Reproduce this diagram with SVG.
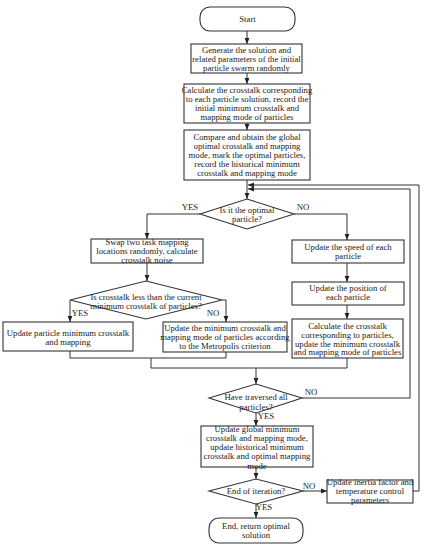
<svg xmlns="http://www.w3.org/2000/svg" width="425" height="550" viewBox="0 0 425 550">
<style>
.b{fill:#fff;stroke:#333;stroke-width:1.1}
.c{fill:none;stroke:#333;stroke-width:1}
text{font-family:"Liberation Serif","Times New Roman",serif;font-size:8.7px;fill:#222;text-anchor:middle}
</style>
<defs>
<marker id="a" viewBox="0 0 10 10" refX="10" refY="5" markerWidth="6" markerHeight="6" orient="auto" markerUnits="userSpaceOnUse"><path d="M0,1 L10,5 L0,9 z" fill="#222"/></marker>
</defs>
<rect width="425" height="550" fill="#fff"/>
<g id="connectors">
<path class="c" d="M247,31 V44" marker-end="url(#a)"/>
<path class="c" d="M247,73 V84" marker-end="url(#a)"/>
<path class="c" d="M247,123 V130" marker-end="url(#a)"/>
<path class="c" d="M247,180 V199" marker-end="url(#a)"/>
<path class="c" d="M413,491 H419 V185 H248" marker-end="url(#a)"/>
<path class="c" d="M302,398 H410 V189 H248" marker-end="url(#a)"/>
<path class="c" d="M200,214 H147 V239" marker-end="url(#a)"/>
<path class="c" d="M294,214 H347 V240" marker-end="url(#a)"/>
<path class="c" d="M147,263 V281" marker-end="url(#a)"/>
<path class="c" d="M347,263 V282" marker-end="url(#a)"/>
<path class="c" d="M347,305 V319" marker-end="url(#a)"/>
<path class="c" d="M70,300 V322" marker-end="url(#a)"/>
<path class="c" d="M222,300 H226 V322" marker-end="url(#a)"/>
<path class="c" d="M70,351 V358 H226 V352"/>
<path class="c" d="M151,358 V368 H347 V358"/>
<path class="c" d="M256,368 V384" marker-end="url(#a)"/>
<path class="c" d="M256,413 V426" marker-end="url(#a)"/>
<path class="c" d="M256,467 V479" marker-end="url(#a)"/>
<path class="c" d="M303,491 H327" marker-end="url(#a)"/>
<path class="c" d="M256,504 V518" marker-end="url(#a)"/>
<text x="190" y="210">YES</text>
<text x="303" y="210">NO</text>
<text x="80" y="316">YES</text>
<text x="213" y="316">NO</text>
<text x="311" y="395">NO</text>
<text x="266" y="419">YES</text>
<text x="309" y="489">NO</text>
<text x="264" y="510">YES</text>
</g>
<g id="start"><rect class="b" x="200" y="7" width="95" height="24" rx="10"/><text x="247.5" y="22">Start</text></g>
<g id="init"><rect class="b" x="191" y="44" width="111" height="29"/><text x="246.5" y="53">Generate the solution and</text><text x="246.5" y="62">related parameters of the initial</text><text x="246.5" y="70.5">particle swarm randomly</text></g>
<g id="calc1"><rect class="b" x="184" y="84" width="126" height="39"/><text x="247" y="93">Calculate the crosstalk corresponding</text><text x="247" y="102">to each particle solution, record the</text><text x="247" y="111">initial minimum crosstalk and</text><text x="247" y="120">mapping mode of particles</text></g>
<g id="compare"><rect class="b" x="184" y="130" width="126" height="50"/><text x="247" y="140">Compare and obtain the global</text><text x="247" y="149">optimal crosstalk and mapping</text><text x="247" y="158">mode, mark the optimal particles,</text><text x="247" y="167">record the historical minimum</text><text x="247" y="176">crosstalk and mapping mode</text></g>
<g id="d1"><polygon class="b" points="200,214 247,199 294,214 247,229"/><text x="247" y="213">Is it the optimal</text><text x="247" y="222">particle?</text></g>
<g id="swap"><rect class="b" x="91" y="239" width="112" height="24"/><text x="147" y="244.5">Swap two task mapping</text><text x="147" y="253.5">locations randomly, calculate</text><text x="147" y="262.5">crosstalk noise</text></g>
<g id="speed"><rect class="b" x="292" y="240" width="112" height="23"/><text x="348" y="250">Update the speed of each</text><text x="348" y="259">particle</text></g>
<g id="position"><rect class="b" x="292" y="282" width="112" height="23"/><text x="348" y="291">Update the position of</text><text x="348" y="300">each particle</text></g>
<g id="d2"><polygon class="b" points="70,300 146,281 222,300 146,319"/><text x="146" y="299.5">Is crosstalk less than the current</text><text x="146" y="308.5">minimum crosstalk of particles?</text></g>
<g id="updmin"><rect class="b" x="3" y="322" width="130" height="29"/><text x="68" y="336">Update particle minimum crosstalk</text><text x="68" y="345">and mapping</text></g>
<g id="metro"><rect class="b" x="163" y="322" width="124" height="30"/><text x="225" y="331">Update the minimum crosstalk and</text><text x="225" y="340">mapping mode of particles according</text><text x="225" y="349">to the Metropolis criterion</text></g>
<g id="calc2"><rect class="b" x="292" y="319" width="111" height="39"/><text x="347.5" y="329">Calculate the crosstalk</text><text x="347.5" y="338">corresponding to particles,</text><text x="347.5" y="346.5">update the minimum crosstalk</text><text x="347.5" y="355">and mapping mode of particles</text></g>
<g id="d3"><polygon class="b" points="209,398 256,384 302,398 256,413"/><text x="256" y="400">Have traversed all</text><text x="256" y="410">particles?</text></g>
<g id="global"><rect class="b" x="201" y="426" width="112" height="41"/><text x="257" y="432">Update global minimum</text><text x="257" y="441">crosstalk and mapping mode,</text><text x="257" y="450">update historical minimum</text><text x="257" y="459">crosstalk and optimal mapping</text><text x="257" y="468.5">mode</text></g>
<g id="d4"><polygon class="b" points="209,491 256,479 303,491 256,504"/><text x="256" y="494">End of iteration?</text></g>
<g id="inertia"><rect class="b" x="327" y="480" width="86" height="23"/><text x="370" y="484.5">Update inertia factor and</text><text x="370" y="493.5">temperature control</text><text x="370" y="502.5">parameters</text></g>
<g id="end"><rect class="b" x="209" y="518" width="94" height="25" rx="10"/><text x="256" y="529">End, return optimal</text><text x="256" y="538">solution</text></g>
</svg>
